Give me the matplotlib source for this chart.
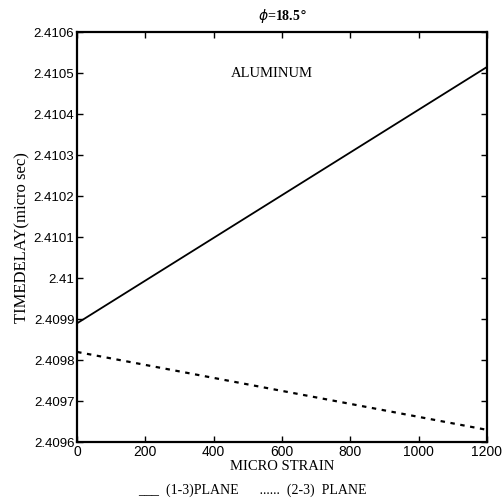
import matplotlib
matplotlib.use('Agg')
import matplotlib.pyplot as plt
import numpy as np

# strain (micro strain) and time delay (micro sec) for the two planes
strain = [0, 1200]
delay_13 = [2.40989, 2.410515]
delay_23 = [2.40982, 2.40963]

xticks = [0, 200, 400, 600, 800, 1000, 1200]
yticks = [2.4096, 2.4097, 2.4098, 2.4099, 2.41, 2.4101, 2.4102, 2.4103, 2.4104, 2.4105, 2.4106]
ylabels = ['2.4096', '2.4097', '2.4098', '2.4099', '2.41', '2.4101', '2.4102',
           '2.4103', '2.4104', '2.4105', '2.4106']

serif = 'Liberation Serif'
sans = 'Liberation Sans'

fig = plt.figure(figsize=(5.04, 5.03), dpi=100)
ax = fig.add_axes([0.153, 0.121, 0.813, 0.815])

ax.plot(strain, delay_13, 'k-', lw=1.3)
ax.plot(strain, delay_23, 'k', lw=1.6, linestyle=(0, (2, 2.5)))

ax.set_xlim(0, 1200)
ax.set_ylim(2.4096, 2.4106)
ax.set_xticks(xticks)
ax.set_yticks(yticks)
ax.set_xticklabels([str(v) for v in xticks], fontfamily=sans, fontsize=10)
ax.set_yticklabels(ylabels, fontfamily=sans, fontsize=9.5)
ax.tick_params(direction='in', top=True, right=True, length=4, width=1, pad=2)
for s in ax.spines.values():
    s.set_linewidth(1.6)

ax.set_xlabel('MICRO STRAIN', fontfamily=serif, fontsize=10.5, labelpad=0.5)
ax.set_ylabel('TIMEDELAY(micro sec)', fontfamily=serif, fontsize=12, labelpad=2)
ax.set_title(r'$\phi$=18.5$\degree$', fontfamily=serif, fontsize=10,
             fontweight='bold', pad=9)

ax.text(570, 2.41050, 'ALUMINUM', fontfamily=serif, fontsize=10.5,
        ha='center', va='center')

fig.text(0.5, 0.025, '___  (1-3)PLANE      ......  (2-3)  PLANE',
         fontfamily=serif, fontsize=10, ha='center', va='center')

fig.savefig('out.png', dpi=100)
